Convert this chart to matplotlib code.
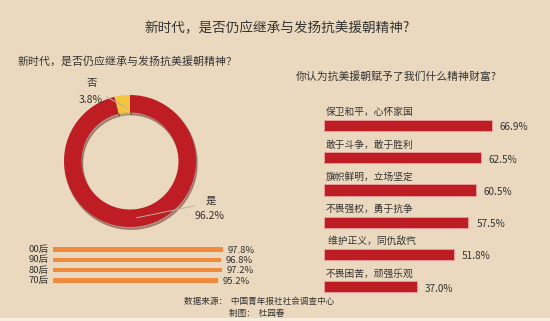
import matplotlib
matplotlib.use("Agg")
import matplotlib.pyplot as plt
from matplotlib.patches import Rectangle

plt.rcParams['font.family'] = ['Noto Sans CJK SC', 'DejaVu Sans']

# data
pie_labels = ['否', '是']
pie_values = [3.8, 96.2]

age_groups = ['00后', '90后', '80后', '70后']
age_values = [97.8, 96.8, 97.2, 95.2]

spirit_labels = ['保卫和平，心怀家国', '敢于斗争，敢于胜利', '旗帜鲜明，立场坚定',
                 '不畏强权，勇于抗争', ' 维护正义，同仇敌忾', '不畏困苦，顽强乐观']
spirit_values = [66.9, 62.5, 60.5, 57.5, 51.8, 37.0]

BG = '#EAD9BE'
RED = '#BF1D24'
YELLOW = '#F5C440'
ORANGE = '#F08A3C'
TXT = '#333333'

W, H = 550, 321
fig = plt.figure(figsize=(W / 100, H / 100), dpi=100)
fig.patch.set_facecolor(BG)


def px_axes(x0, y0, x1, y1):
    # pixel box (top-left origin) -> figure axes
    ax = fig.add_axes([x0 / W, 1 - y1 / H, (x1 - x0) / W, (y1 - y0) / H])
    ax.set_facecolor('none')
    ax.axis('off')
    return ax


# bottom light strip
fig.patches.append(Rectangle((0, 0), 1, 3 / H, transform=fig.transFigure,
                             facecolor='#F6EDDD', edgecolor='none'))

# titles
fig.text(277 / W, 1 - 28 / H, '新时代，是否仍应继承与发扬抗美援朝精神?', ha='center', va='center',
         fontsize=9.8, color=TXT)
fig.text(18 / W, 1 - 61 / H, '新时代，是否仍应继承与发扬抗美援朝精神？', ha='left', va='center',
         fontsize=7.9, color=TXT)
fig.text(396 / W, 1 - 77 / H, '你认为抗美援朝赋予了我们什么精神财富?', ha='center', va='center',
         fontsize=7.8, color=TXT)

# donut
ax_p = px_axes(130 - 66, 161 - 66, 130 + 66, 161 + 66)
ax_p.pie(pie_values, colors=[YELLOW, RED], startangle=90, counterclock=True,
         radius=1, wedgeprops=dict(width=0.265, edgecolor='none'),
         shadow=dict(ox=0.012, oy=-0.025, shade=0.6, alpha=0.35))
ax_p.set_xlim(-1, 1)
ax_p.set_ylim(-1, 1)
ax_p.set_aspect('equal')

ax_p.plot([-0.35, -0.05], [0.97, 0.8], color='#B8B0A4', lw=0.7)
ax_p.text(-0.58, 1.18, pie_labels[0], ha='center', va='center', fontsize=7.5, color=TXT)
ax_p.text(-0.6, 0.93, f'{pie_values[0]}%', ha='center', va='center', fontsize=7.5, color=TXT)
ax_p.plot([0.1, 0.98], [-0.86, -0.68], color='#B8B0A4', lw=0.7)
ax_p.text(1.22, -0.6, pie_labels[1], ha='center', va='center', fontsize=7.5, color=TXT)
ax_p.text(1.2, -0.83, f'{pie_values[1]}%', ha='center', va='center', fontsize=7.5, color=TXT)

# age bars
row_h = 10.33
ax_a = px_axes(53, 249.5 - row_h / 2, 53 + 173.8, 249.5 + row_h * 3.5)
ax_a.barh(range(len(age_groups)), age_values, height=0.4, color=ORANGE, edgecolor='none')
ax_a.set_xlim(0, 100)
ax_a.set_ylim(len(age_groups) - 0.5, -0.5)
for i, (g, v) in enumerate(zip(age_groups, age_values)):
    ax_a.text(-2.5, i, g, ha='right', va='center', fontsize=6.8, color=TXT)
    ax_a.text(v + 2.5, i + 0.08, f'{v}%', ha='left', va='center', fontsize=6.8, color=TXT)

# spirit bars
row_r = 32.25
ax_r = px_axes(324, 125.5 - row_r / 2, 324 + 2.51 * 80, 125.5 + row_r * 5.5)
ax_r.barh(range(len(spirit_labels)), spirit_values, height=0.35, color=RED,
          edgecolor='#E8A0A0', linewidth=0.6)
ax_r.set_xlim(0, 80)
ax_r.set_ylim(len(spirit_labels) - 0.5, -0.5)
for i, (lab, v) in enumerate(zip(spirit_labels, spirit_values)):
    ax_r.text(0.6, i - 0.41, lab, ha='left', va='center', fontsize=7, color=TXT)
    ax_r.text(v + 3.2, i + 0.06, f'{v}%', ha='left', va='center', fontsize=7.2, color=TXT)

# source
fig.text(184 / W, 1 - 301 / H, '数据来源：  中国青年报社社会调查中心', ha='left', va='center',
         fontsize=6.2, color=TXT)
fig.text(229 / W, 1 - 313 / H, '制图：  杜园春', ha='left', va='center',
         fontsize=6.2, color=TXT)

fig.savefig('out.png', dpi=100, facecolor=BG)
